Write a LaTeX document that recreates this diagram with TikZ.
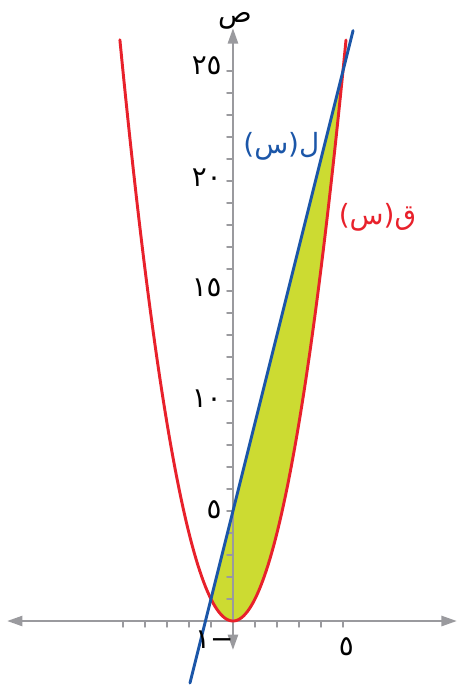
\documentclass[tikz,border=0pt]{standalone}
\usepackage{fontspec}
\newfontfamily\arabicfont[Script=Arabic]{DejaVu Sans}
\TeXXeTstate=1
\usetikzlibrary{arrows.meta}
\definecolor{CurveRed}{HTML}{E8212B}
\definecolor{LineBlue}{HTML}{1B56A8}
\definecolor{AreaGreen}{HTML}{CCDB32}
\definecolor{AxisGray}{HTML}{9A9A9E}
\tikzset{
  axis/.style={AxisGray,line width=1.6pt,-{Triangle[length=10pt,width=6.5pt]}},
  tick/.style={AxisGray,line width=1pt},
  lbl/.style={font=\arabicfont\fontsize{18}{20}\selectfont,inner sep=0pt}
}
\begin{document}
\begin{tikzpicture}[x=5mm,y=5mm,line cap=round,line join=round]
  \useasboundingbox (-10.59,-3.136) rectangle (10.23,28.23);
  \coordinate (O) at (0,0);
  \coordinate (P) at (-1,1); \coordinate (Q) at (5,25);
  % shaded region between the line and the parabola
  \fill[AreaGreen] (P) -- (Q) -- plot[domain=5:-1,samples=80] (\x,{\x*\x}) -- cycle;
  % axes
  \draw[axis] (O) -- (10.18,0); \draw[axis] (O) -- (-10.27,0);
  \draw[axis] (O) -- (0,26.95); \draw[axis] (O) -- (0,-1.32);
  \foreach \x in {-5,...,-1,1,2,...,5} \draw[tick] (\x,0) -- (\x,-0.27);
  \foreach \y in {1,...,25} \draw[tick] (0,\y) -- (-0.27,\y);
  % curves
  \draw[CurveRed,line width=1.9pt] plot[domain=-5.14:5.14,samples=120] (\x,{\x*\x});
  \draw[LineBlue,line width=1.9pt] plot[domain=-1.955:5.46] (\x,{4*\x+5});
  % labels
  \node[lbl] (yname) at (0.09,27.3) {ص};
  \node[lbl,anchor=east] (y25) at (-0.5,25.25) {٢٥};
  \node[lbl,anchor=east] (y20) at (-0.5,20.15) {٢٠};
  \node[lbl,anchor=east] (y15) at (-0.5,15.15) {١٥};
  \node[lbl,anchor=east] (y10) at (-0.5,10.1) {١٠};
  \node[lbl,anchor=east] (y5) at (-0.5,5.05) {٥};
  \node[lbl,anchor=base] (xm1) at (-0.85,-1.25) {\beginR−١\endR};
  \node[lbl,anchor=base] (x5) at (5.15,-1.55) {٥};
  \node[lbl,LineBlue] (lname) at (2.2,21.6) {\beginR ل(س)\endR};
  \node[lbl,CurveRed] (qname) at (6.57,18.36) {\beginR ق(س)\endR};
\end{tikzpicture}
\end{document}
